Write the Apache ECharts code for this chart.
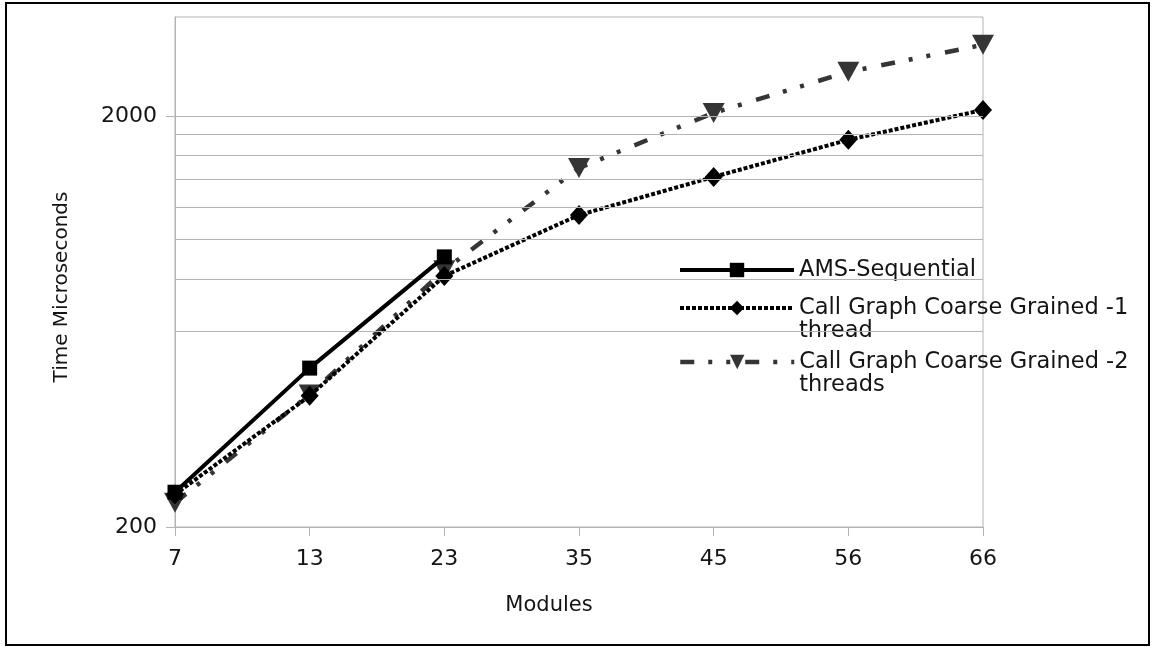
<!DOCTYPE html>
<html>
<head>
<meta charset="utf-8">
<script src="https://cdn.jsdelivr.net/npm/echarts@6/dist/echarts.min.js"></script>
<style>
  html, body { margin: 0; padding: 0; background: #fff; }
  #frame { position: absolute; left: 5px; top: 2px; width: 1145px; height: 644px; border: 2px solid #000; box-sizing: border-box; }
  #chart { position: absolute; left: 0; top: 0; width: 1154px; height: 651px; }
</style>
</head>
<body>
<div id="chart"></div>
<div id="frame"></div>
<script>
// Module counts on the x axis
const modules = ['7', '13', '23', '35', '45', '56', '66'];

// Run times in microseconds
const amsSequential = [243, 487, 908, null, null, null, null];
const cgCoarse1 = [240, 417, 816, 1148, 1421, 1749, 2068];
const cgCoarse2 = [229, 420, 843, 1494, 2034, 2560, 2978];

// Series names
const nameSeq = 'AMS-Sequential';
const nameCg1 = 'Call Graph Coarse Grained -1 thread';
const nameCg2 = 'Call Graph Coarse Grained -2 threads';

// Labelled y ticks and the horizontal grid lines
const yTickValues = [200, 2000];
const gridValues = [600, 800, 1000, 1200, 1400, 1600, 1800, 2000];
const yMin = 200;
const yMax = 3480;

const FONT = 'DejaVu Sans';
const TEXT = '#141414';
const AXIS = '#b3b3b3';

const chart = echarts.init(document.getElementById('chart'), null, { renderer: 'canvas' });

// One legend block per series; a leading blank line keeps the first
// text line level with the icon when the name wraps onto two lines.
function legendFor(name, top, label, lineWidth, lineType) {
  return {
    show: true,
    data: [{ name: name, lineStyle: { width: lineWidth, type: lineType } }],
    orient: 'vertical',
    left: 678,
    top: top,
    padding: 0,
    itemWidth: 114,
    itemHeight: 18,
    selectedMode: false,
    formatter: function () { return label; },
    textStyle: { fontFamily: FONT, fontSize: 22.5, color: TEXT, lineHeight: 23 }
  };
}

const dashCg1 = [4, 2];
const dashCg2 = [14, 14, 4, 14, 4, 15];

const option = {
  animation: false,
  backgroundColor: '#fff',
  grid: {
    left: 175, right: 171, top: 17, bottom: 124,
    show: true, borderColor: AXIS, borderWidth: 1, containLabel: false
  },
  legend: [
    legendFor(nameSeq, 258.5, 'AMS-Sequential', 4, 'solid'),
    legendFor(nameCg1, 273.5, ' \nCall Graph Coarse Grained -1\nthread', 4, dashCg1),
    legendFor(nameCg2, 327.5, ' \nCall Graph Coarse Grained -2\nthreads', 4.5, dashCg2)
  ],
  xAxis: {
    type: 'category',
    data: modules,
    boundaryGap: false,
    name: 'Modules',
    nameLocation: 'middle',
    nameGap: 68,
    nameTextStyle: { fontFamily: FONT, fontSize: 21, color: TEXT, padding: [0, 60, 0, 0] },
    axisLine: { show: true, lineStyle: { color: AXIS, width: 1 } },
    axisTick: { show: true, length: 9, lineStyle: { color: AXIS } },
    axisLabel: { fontFamily: FONT, fontSize: 22, color: TEXT, margin: 21 },
    splitLine: { show: false }
  },
  yAxis: {
    type: 'log',
    logBase: 10,
    min: yMin,
    max: yMax,
    name: 'Time Microseconds',
    nameLocation: 'middle',
    nameGap: 103,
    nameRotate: 90,
    nameTextStyle: { fontFamily: FONT, fontSize: 20, color: TEXT, padding: [0, 30, 0, 0] },
    axisLine: { show: true, lineStyle: { color: AXIS, width: 1 } },
    axisTick: { show: true, length: 9, customValues: yTickValues, lineStyle: { color: AXIS } },
    axisLabel: {
      fontFamily: FONT, fontSize: 22, color: TEXT, margin: 18,
      customValues: yTickValues,
      formatter: function (v) { return String(v); }
    },
    splitLine: { show: false },
    minorTick: { show: false },
    minorSplitLine: { show: false }
  },
  series: [
    {
      // horizontal grid lines
      name: 'grid',
      type: 'line',
      data: [],
      z: 1,
      silent: true,
      markLine: {
        silent: true,
        symbol: ['none', 'none'],
        label: { show: false },
        lineStyle: { color: AXIS, width: 1, type: 'solid' },
        emphasis: { disabled: true },
        data: gridValues.map(function (v) { return { yAxis: v }; })
      }
    },
    {
      name: nameSeq,
      type: 'line',
      data: amsSequential,
      z: 5,
      color: '#000',
      symbol: 'rect',
      symbolSize: 15,
      showAllSymbol: true,
      lineStyle: { color: '#000', width: 4, type: 'solid' },
      itemStyle: { color: '#000' }
    },
    {
      name: nameCg1,
      type: 'line',
      data: cgCoarse1,
      z: 4,
      color: '#000',
      symbol: 'diamond',
      symbolSize: [18, 20],
      showAllSymbol: true,
      lineStyle: { color: '#000', width: 4, type: dashCg1 },
      itemStyle: { color: '#000' }
    },
    {
      name: nameCg2,
      type: 'line',
      data: cgCoarse2,
      z: 3,
      color: '#353535',
      symbol: 'triangle',
      symbolRotate: 180,
      symbolSize: [22, 20],
      showAllSymbol: true,
      lineStyle: { color: '#353535', width: 4.5, type: dashCg2 },
      itemStyle: { color: '#353535' }
    }
  ]
};

chart.setOption(option);
</script>
</body>
</html>
